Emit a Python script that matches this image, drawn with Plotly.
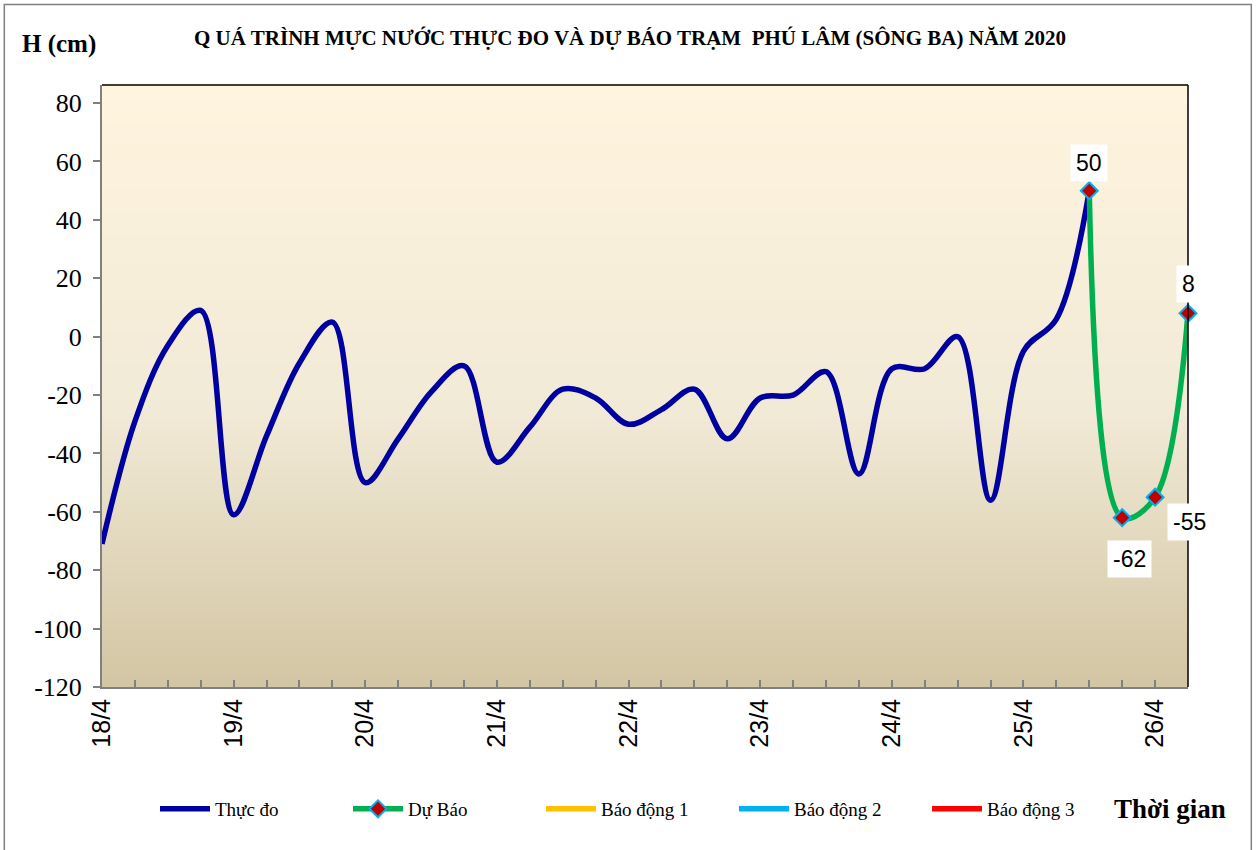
import plotly.graph_objects as go

# ---- data ----
day_labels = ["18/4", "19/4", "20/4", "21/4", "22/4", "23/4", "24/4", "25/4", "26/4"]
steps_per_day = 4  # 6-hourly observations

observed = [-71, -29, -3, 9,
            -61, -34, -9, 5,
            -50, -35, -19, -10,
            -43, -31, -18, -21,
            -30, -25, -18, -35,
            -21, -20, -12, -47,
            -11, -11, 0, -56,
            -5, 6, 50]
forecast = [50, -62, -55, 8]
forecast_start = len(observed) - 1

y_ticks = [-120, -100, -80, -60, -40, -20, 0, 20, 40, 60, 80]
y_ticktext = ["-120", "-100", "-80", "-60", "-40", "-20", "0", "20", "40", "60", "80"]

obs_x = list(range(len(observed)))
fc_x = list(range(forecast_start, forecast_start + len(forecast)))
n_pos = forecast_start + len(forecast)

tickvals = list(range(n_pos))
ticktext = [day_labels[i // steps_per_day] if i % steps_per_day == 0 else "" for i in tickvals]

# ---- layout geometry (pixels) ----
W, H = 1257, 850
L, R, T, B = 101.7, 1187.7, 84.7, 687.3
pw, ph = R - L, B - T


def px_x(x):
    return (x - L) / pw


def px_y(y):
    return (B - y) / ph


fig = go.Figure()

fig.add_trace(go.Scatter(
    x=obs_x, y=observed, mode="lines", name="Thực đo",
    line=dict(color="#0000A0", width=5.5, shape="spline", smoothing=1.0),
))
fig.add_trace(go.Scatter(
    x=fc_x, y=forecast, mode="lines+markers", name="Dự Báo",
    line=dict(color="#00B050", width=5.5, shape="spline", smoothing=1.0),
    marker=dict(symbol="diamond", size=13, color="#C00000",
                line=dict(color="#00B0F0", width=2)),
    cliponaxis=False,
))
for nm, col in [("Báo động 1", "#FFC000"), ("Báo động 2", "#00B0F0"), ("Báo động 3", "#FF0000")]:
    fig.add_trace(go.Scatter(x=[None], y=[None], mode="lines", name=nm,
                             line=dict(color=col, width=5.5)))

# ---- gradient background ----
def lerp(a, b, t):
    return tuple(int(round(a[i] + (b[i] - a[i]) * t)) for i in range(3))


c_top = (255, 244, 222)
c_mid = (241, 234, 214)
c_bot = (211, 197, 163)
nb = 80
shapes = []
for i in range(nb):
    f = (i + 0.5) / nb  # fraction from top
    if f < 0.55:
        c = lerp(c_top, c_mid, f / 0.55)
    else:
        c = lerp(c_mid, c_bot, (f - 0.55) / 0.45)
    shapes.append(dict(type="rect", xref="x domain", yref="y domain",
                       x0=0, x1=1, y0=1 - (i + 1) / nb, y1=1 - i / nb + 0.002,
                       fillcolor="rgb(%d,%d,%d)" % c, line=dict(width=0), layer="below"))

# frame top & right (black)
shapes.append(dict(type="line", xref="x domain", yref="y domain", x0=0, x1=1, y0=1, y1=1,
                   line=dict(color="black", width=1.5)))
shapes.append(dict(type="line", xref="x domain", yref="y domain", x0=1, x1=1, y0=0, y1=1,
                   line=dict(color="black", width=1.5)))
# outer figure border
shapes.append(dict(type="rect", xref="paper", yref="paper",
                   x0=px_x(4), x1=px_x(1251), y0=px_y(853), y1=px_y(4),
                   line=dict(color="#808080", width=1.5), fillcolor="rgba(0,0,0,0)", layer="below"))

# ---- annotations ----
annotations = []
label_shift = [(0, 28), (7, -41), (34, -25), (0, 29)]
for xv, yv, (dx, dy) in zip(fc_x, forecast, label_shift):
    annotations.append(dict(x=xv, y=yv, xref="x", yref="y", text=str(yv), showarrow=False,
                            xshift=dx, yshift=dy, bgcolor="white", borderpad=5,
                            font=dict(family="Liberation Sans, Arial", size=23, color="black")))

annotations.append(dict(xref="paper", yref="paper", x=px_x(20), y=px_y(44), xanchor="left",
                        yanchor="middle", showarrow=False, text="<b>H (cm)</b>",
                        font=dict(family="Liberation Serif, Times New Roman", size=25, color="black")))
annotations.append(dict(xref="paper", yref="paper", x=px_x(630), y=px_y(38), xanchor="center",
                        yanchor="middle", showarrow=False,
                        text="<b>Q UÁ TRÌNH MỰC NƯỚC THỰC ĐO VÀ DỰ BÁO TRẠM  PHÚ LÂM (SÔNG BA) NĂM 2020</b>",
                        font=dict(family="Liberation Serif, Times New Roman", size=21, color="black")))
annotations.append(dict(xref="paper", yref="paper", x=px_x(1170), y=px_y(809), xanchor="center",
                        yanchor="middle", showarrow=False, text="<b>Thời gian</b>",
                        font=dict(family="Liberation Serif, Times New Roman", size=27, color="black")))

fig.update_layout(
    width=W, height=H,
    margin=dict(l=L, r=W - R, t=T, b=H - B, autoexpand=False),
    paper_bgcolor="white", plot_bgcolor="rgba(0,0,0,0)",
    shapes=shapes, annotations=annotations,
    showlegend=True,
    legend=dict(orientation="h", xref="container", yref="container",
                x=155 / W, y=1 - 809 / H, xanchor="left", yanchor="middle",
                font=dict(family="Liberation Serif, Times New Roman", size=19, color="black"),
                entrywidth=128, entrywidthmode="pixels", itemwidth=50,
                bgcolor="rgba(0,0,0,0)", traceorder="normal"),
    xaxis=dict(range=[0, n_pos - 1], tickmode="array", tickvals=tickvals, ticktext=ticktext,
               tickangle=-90, ticks="inside", ticklen=7, tickcolor="#808080", tickwidth=1.5,
               showline=True, linecolor="#808080", linewidth=2, showgrid=False, zeroline=False,
               tickfont=dict(family="Liberation Sans, Arial", size=25, color="black")),
    yaxis=dict(range=[-120, 86.2], tickmode="array", tickvals=y_ticks, ticktext=y_ticktext,
               ticks="outside", ticklen=7, tickcolor="#808080", tickwidth=1.5,
               ticklabelstandoff=6,
               showline=True, linecolor="#808080", linewidth=2, showgrid=False, zeroline=False,
               tickfont=dict(family="Liberation Serif, Times New Roman", size=26, color="black")),
)

fig.write_html("out.html", config={"displayModeBar": False},
               post_script="document.body.style.margin='0';")
